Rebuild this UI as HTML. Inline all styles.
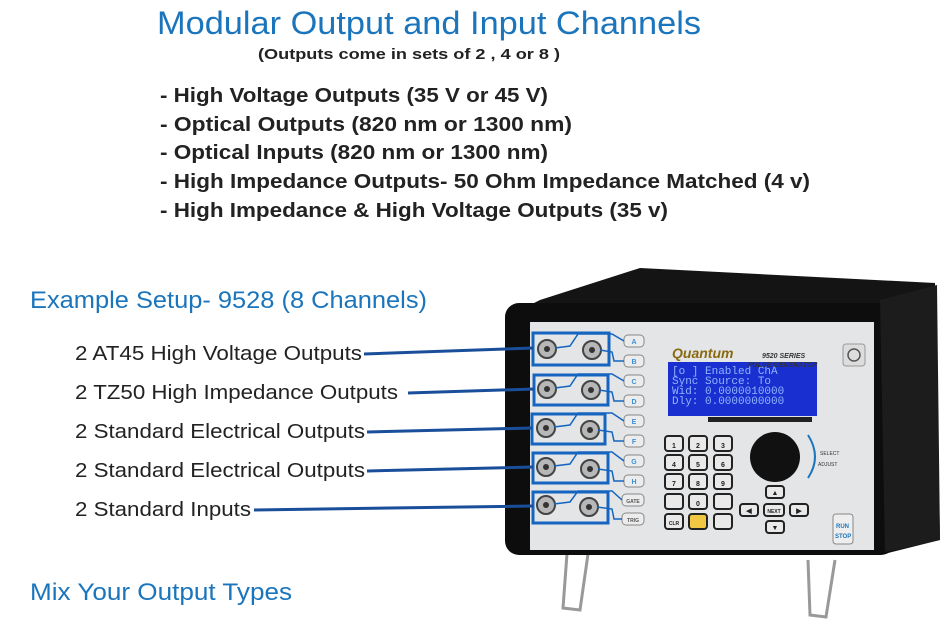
<!DOCTYPE html>
<html><head><meta charset="utf-8"><style>
html,body{margin:0;padding:0;background:#fff;width:945px;height:633px;overflow:hidden}
svg{display:block}
.b{font-family:"Liberation Sans",sans-serif}
</style></head><body>
<svg width="945" height="633" viewBox="0 0 945 633" xmlns="http://www.w3.org/2000/svg" class="b">
<text x="157" y="34" font-size="32" fill="#1b75bc" textLength="544" lengthAdjust="spacingAndGlyphs">Modular Output and Input Channels</text>
<text x="258" y="59" font-size="15" font-weight="bold" fill="#222" textLength="302" lengthAdjust="spacingAndGlyphs">(Outputs come in sets of 2 , 4 or 8 )</text>
<g font-size="20" font-weight="bold" fill="#222">
<text x="160" y="102" textLength="388" lengthAdjust="spacingAndGlyphs">- High Voltage Outputs (35 V or 45 V)</text>
<text x="160" y="131" textLength="412" lengthAdjust="spacingAndGlyphs">- Optical  Outputs (820 nm or 1300 nm)</text>
<text x="160" y="159" textLength="388" lengthAdjust="spacingAndGlyphs">- Optical Inputs (820 nm or 1300 nm)</text>
<text x="160" y="188" textLength="650" lengthAdjust="spacingAndGlyphs">- High Impedance Outputs- 50 Ohm Impedance Matched (4 v)</text>
<text x="160" y="217" textLength="508" lengthAdjust="spacingAndGlyphs">- High Impedance &amp; High Voltage Outputs (35 v)</text>
</g>
<text x="30" y="308" font-size="24" fill="#1b75bc" textLength="397" lengthAdjust="spacingAndGlyphs">Example Setup- 9528 (8 Channels)</text>
<text x="30" y="600" font-size="24" fill="#1b75bc" textLength="262" lengthAdjust="spacingAndGlyphs">Mix Your Output Types</text>
<g font-size="20" fill="#222">
<text x="75" y="360" textLength="287" lengthAdjust="spacingAndGlyphs">2 AT45 High Voltage Outputs</text>
<text x="75" y="399" textLength="323" lengthAdjust="spacingAndGlyphs">2 TZ50 High Impedance Outputs</text>
<text x="75" y="438" textLength="290" lengthAdjust="spacingAndGlyphs">2 Standard Electrical Outputs</text>
<text x="75" y="477" textLength="290" lengthAdjust="spacingAndGlyphs">2 Standard Electrical Outputs</text>
<text x="75" y="516" textLength="176" lengthAdjust="spacingAndGlyphs">2 Standard Inputs</text>
</g>
<g stroke="#999" stroke-width="3" fill="none">
<path d="M568 540 L563 608 L580 610 L590 540"/>
<path d="M808 560 L810 615 L826 617 L835 560"/>
</g>
<path d="M540 300 L640 268 L935 283 L940 540 L880 555 L520 310 Z" fill="#141414"/>
<rect x="505" y="303" width="390" height="252" rx="14" fill="#0d0d0d"/>
<path d="M880 300 L937 285 L940 540 L885 552 Z" fill="#1c1c1c"/>
<rect x="530" y="322" width="344" height="228" fill="#e3e5e6"/>
<rect x="668" y="362" width="149" height="54" fill="#1a2fd0"/>
<g font-family="Liberation Mono,monospace" font-size="11" fill="#8fb4ff">
<text x="672" y="374">[o ] Enabled   ChA</text>
<text x="672" y="384">Sync Source: To</text>
<text x="672" y="394">Wid:  0.0000010000</text>
<text x="672" y="404">Dly:  0.0000000000</text>
</g>
<rect x="708" y="417" width="104" height="5" fill="#222"/>
<text x="672" y="358" font-size="14" font-style="italic" font-weight="bold" fill="#8a6a10">Quantum</text>
<text x="762" y="358" font-size="7" font-style="italic" font-weight="bold" fill="#333">9520 SERIES</text>
<text x="748" y="367" font-size="7" font-style="italic" font-weight="bold" fill="#333">PULSE GENERATOR</text>
<rect x="843" y="344" width="22" height="22" rx="3" fill="#ddd" stroke="#999"/>
<circle cx="854" cy="355" r="6" fill="none" stroke="#555" stroke-width="1.5"/>
<circle cx="775" cy="457" r="25" fill="#111"/>
<path d="M808 435 Q822 457 808 478" stroke="#1b75bc" stroke-width="2" fill="none"/>
<text x="820" y="455" font-size="5" fill="#333">SELECT</text>
<text x="818" y="466" font-size="5" fill="#333">ADJUST</text>
<g fill="#e9e9e9" stroke="#222" stroke-width="2">
<rect x="665" y="436" width="18" height="15" rx="3"/><rect x="689" y="436" width="18" height="15" rx="3"/><rect x="714" y="436" width="18" height="15" rx="3"/>
<rect x="665" y="455" width="18" height="15" rx="3"/><rect x="689" y="455" width="18" height="15" rx="3"/><rect x="714" y="455" width="18" height="15" rx="3"/>
<rect x="665" y="474" width="18" height="15" rx="3"/><rect x="689" y="474" width="18" height="15" rx="3"/><rect x="714" y="474" width="18" height="15" rx="3"/>
<rect x="665" y="494" width="18" height="15" rx="3"/><rect x="689" y="494" width="18" height="15" rx="3"/><rect x="714" y="494" width="18" height="15" rx="3"/>
<rect x="665" y="514" width="18" height="15" rx="3"/><rect x="689" y="514" width="18" height="15" rx="3" fill="#f2c744"/><rect x="714" y="514" width="18" height="15" rx="3"/>
<rect x="766" y="486" width="18" height="12" rx="3"/><rect x="740" y="504" width="18" height="12" rx="3"/><rect x="764" y="504" width="20" height="12" rx="3"/><rect x="790" y="504" width="18" height="12" rx="3"/><rect x="766" y="521" width="18" height="12" rx="3"/>
</g>
<g fill="#222" font-size="7" text-anchor="middle" font-weight="bold">
<text x="674" y="448">1</text><text x="698" y="448">2</text><text x="723" y="448">3</text>
<text x="674" y="467">4</text><text x="698" y="467">5</text><text x="723" y="467">6</text>
<text x="674" y="486">7</text><text x="698" y="486">8</text><text x="723" y="486">9</text>
<text x="698" y="506">0</text><text x="674" y="525" font-size="5">CLR</text>
<text x="775" y="495">▲</text><text x="749" y="513">◀</text><text x="774" y="513" font-size="5">NEXT</text><text x="799" y="513">▶</text><text x="775" y="530">▼</text>
</g>
<rect x="833" y="514" width="20" height="30" rx="3" fill="#eee" stroke="#888"/>
<text x="836" y="528" font-size="6" font-weight="bold" fill="#1b75bc">RUN</text>
<text x="835" y="538" font-size="6" font-weight="bold" fill="#1b75bc">STOP</text>
<g fill="#ececec" stroke="#888">
<rect x="624" y="335" width="20" height="12" rx="4"/><rect x="624" y="355" width="20" height="12" rx="4"/><rect x="624" y="375" width="20" height="12" rx="4"/><rect x="624" y="395" width="20" height="12" rx="4"/><rect x="624" y="415" width="20" height="12" rx="4"/><rect x="624" y="435" width="20" height="12" rx="4"/><rect x="624" y="455" width="20" height="12" rx="4"/><rect x="624" y="475" width="20" height="12" rx="4"/><rect x="622" y="494" width="22" height="12" rx="4"/><rect x="622" y="513" width="22" height="12" rx="4"/>
</g>
<g font-size="7" font-weight="bold" fill="#3a8fd8" text-anchor="middle">
<text x="634" y="344">A</text><text x="634" y="364">B</text><text x="634" y="384">C</text><text x="634" y="404">D</text><text x="634" y="424">E</text><text x="634" y="444">F</text><text x="634" y="464">G</text><text x="634" y="484">H</text><text x="633" y="503" fill="#555" font-size="5">GATE</text><text x="633" y="522" fill="#555" font-size="5">TRIG</text>
</g>
<g stroke="#1565c0" stroke-width="3" fill="none">
<rect x="533" y="333" width="76" height="32"/><rect x="534" y="375" width="74" height="30"/><rect x="532" y="414" width="73" height="30"/><rect x="533" y="453" width="75" height="30"/><rect x="533" y="492" width="75" height="31"/>
</g>
<g fill="#b7b7b7" stroke="#444" stroke-width="2">
<circle cx="547" cy="349" r="9"/><circle cx="592" cy="350" r="9"/>
<circle cx="547" cy="389" r="9"/><circle cx="591" cy="390" r="9"/>
<circle cx="546" cy="428" r="9"/><circle cx="590" cy="430" r="9"/>
<circle cx="546" cy="467" r="9"/><circle cx="590" cy="469" r="9"/>
<circle cx="546" cy="505" r="9"/><circle cx="589" cy="507" r="9"/>
</g>
<g fill="#333"><circle cx="547" cy="349" r="3"/><circle cx="592" cy="350" r="3"/><circle cx="547" cy="389" r="3"/><circle cx="591" cy="390" r="3"/><circle cx="546" cy="428" r="3"/><circle cx="590" cy="430" r="3"/><circle cx="546" cy="467" r="3"/><circle cx="590" cy="469" r="3"/><circle cx="546" cy="505" r="3"/><circle cx="589" cy="507" r="3"/></g>
<g stroke="#1565c0" stroke-width="1.5" fill="none">
<path d="M555 348 L570 346 L578 334 L612 334 L624 341"/><path d="M600 350 L612 352 L614 361 L624 361"/>
<path d="M555 388 L570 386 L578 374 L612 374 L624 381"/><path d="M599 390 L612 392 L614 401 L624 401"/>
<path d="M554 427 L570 425 L578 413 L612 413 L624 421"/><path d="M598 430 L612 432 L614 441 L624 441"/>
<path d="M554 466 L570 464 L578 452 L612 452 L624 461"/><path d="M598 469 L612 471 L614 481 L624 481"/>
<path d="M554 504 L570 502 L578 491 L612 491 L622 500"/><path d="M597 507 L612 509 L614 519 L622 519"/>
</g>
<g stroke="#1a4e9a" stroke-width="3">
<line x1="364" y1="354" x2="533" y2="348"/>
<line x1="408" y1="393" x2="534" y2="389"/>
<line x1="367" y1="432" x2="532" y2="428"/>
<line x1="367" y1="471" x2="533" y2="467"/>
<line x1="254" y1="510" x2="533" y2="506"/>
</g>
</svg>
</body></html>
